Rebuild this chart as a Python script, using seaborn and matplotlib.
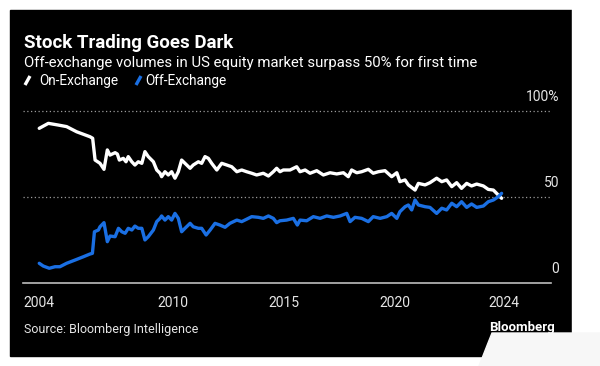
import numpy as np
import pandas as pd
import seaborn as sns
import matplotlib
matplotlib.use("Agg")
import matplotlib.pyplot as plt
from matplotlib.patches import Rectangle, Polygon
from matplotlib.lines import Line2D

# Share of US equity volume (%)
on_year = [2004.01, 2004.42, 2004.87, 2005.24, 2005.69, 2006.29, 2006.41, 2006.52, 2006.74, 2006.92,
           2007.07, 2007.19, 2007.42, 2007.52, 2007.61, 2007.79, 2007.91, 2008.01, 2008.17, 2008.31,
           2008.46, 2008.62, 2008.76, 2008.91, 2009.14, 2009.29, 2009.44, 2009.51, 2009.66, 2009.81,
           2009.96, 2010.11, 2010.26, 2010.41, 2010.56, 2010.79, 2010.93, 2011.16, 2011.31, 2011.46,
           2011.61, 2011.76, 2011.99, 2012.21, 2012.44, 2012.66, 2012.89, 2013.11, 2013.33, 2013.56,
           2013.78, 2014.08, 2014.31, 2014.53, 2014.68, 2014.83, 2014.98, 2015.28, 2015.58, 2015.73,
           2015.96, 2016.18, 2016.48, 2016.78, 2017.08, 2017.38, 2017.68, 2017.90, 2018.05, 2018.28,
           2018.50, 2018.80, 2019.02, 2019.25, 2019.55, 2019.85, 2020.08, 2020.22, 2020.45, 2020.60,
           2020.90, 2021.05, 2021.35, 2021.57, 2021.87, 2022.10, 2022.32, 2022.55, 2022.77, 2022.99,
           2023.22, 2023.44, 2023.67, 2023.97, 2024.19, 2024.42, 2024.64, 2024.79]
on_exchange = [89.9, 92.8, 91.8, 90.9, 87.9, 85.0, 84.1, 71.4, 69.5, 66.0,
               77.3, 74.3, 75.7, 74.9, 71.4, 72.4, 70.4, 73.4, 70.4, 68.5,
               70.4, 69.5, 76.3, 73.4, 70.4, 65.6, 63.7, 61.7, 64.6, 62.7,
               64.6, 60.8, 64.6, 71.4, 69.5, 66.6, 68.5, 70.4, 69.5, 73.4,
               72.4, 69.5, 65.6, 69.5, 68.5, 67.5, 64.6, 65.6, 64.6, 63.7,
               62.7, 63.7, 62.1, 64.6, 66.6, 64.6, 65.6, 65.6, 67.5, 64.6,
               65.6, 63.7, 65.2, 62.7, 64.0, 63.3, 64.0, 61.7, 65.6, 64.0,
               64.6, 66.0, 63.7, 64.6, 65.2, 61.7, 64.0, 58.8, 59.8, 56.9,
               53.9, 57.8, 56.9, 58.2, 60.8, 58.8, 59.8, 55.9, 58.2, 54.9,
               57.8, 56.3, 57.4, 56.3, 54.3, 53.9, 51.0, 49.1]

off_year = [2004.01, 2004.19, 2004.46, 2004.72, 2004.94, 2005.24, 2005.62, 2005.99, 2006.29, 2006.40,
            2006.49, 2006.67, 2006.74, 2006.92, 2007.07, 2007.19, 2007.42, 2007.57, 2007.72, 2007.87,
            2008.01, 2008.17, 2008.31, 2008.46, 2008.62, 2008.76, 2008.91, 2009.14, 2009.29, 2009.44,
            2009.51, 2009.66, 2009.81, 2009.96, 2010.11, 2010.26, 2010.41, 2010.56, 2010.79, 2010.93,
            2011.16, 2011.31, 2011.51, 2011.69, 2011.91, 2012.13, 2012.36, 2012.58, 2012.89, 2013.11,
            2013.33, 2013.56, 2013.86, 2014.08, 2014.31, 2014.53, 2014.68, 2014.83, 2015.13, 2015.43,
            2015.61, 2015.73, 2016.03, 2016.33, 2016.63, 2016.93, 2017.23, 2017.53, 2017.83, 2017.98,
            2018.20, 2018.50, 2018.80, 2019.02, 2019.33, 2019.63, 2019.85, 2020.08, 2020.22, 2020.45,
            2020.60, 2020.75, 2020.90, 2021.05, 2021.35, 2021.57, 2021.87, 2022.10, 2022.32, 2022.55,
            2022.77, 2022.99, 2023.22, 2023.44, 2023.67, 2023.97, 2024.19, 2024.42, 2024.64, 2024.79]
off_exchange = [11.2, 9.6, 8.3, 9.2, 9.2, 11.2, 13.1, 15.0, 16.6, 17.0,
                29.6, 30.6, 32.5, 34.9, 23.8, 27.1, 26.7, 31.6, 29.6, 28.7,
                31.6, 30.6, 32.9, 31.6, 31.6, 24.8, 26.7, 30.6, 35.5, 37.4,
                38.8, 36.4, 38.4, 36.4, 40.3, 37.4, 29.6, 31.6, 34.5, 32.5,
                31.6, 31.6, 27.7, 30.6, 34.5, 33.5, 32.2, 34.5, 36.4, 35.5,
                36.9, 38.4, 38.0, 37.4, 38.8, 37.4, 34.9, 36.0, 36.4, 37.4,
                33.5, 36.4, 36.0, 38.4, 37.4, 38.8, 38.0, 38.8, 40.3, 35.5,
                38.0, 37.4, 35.5, 38.4, 37.4, 38.4, 40.3, 37.4, 41.3, 44.2,
                45.2, 42.3, 48.1, 45.2, 44.2, 43.8, 40.3, 43.3, 42.3, 46.2,
                44.2, 47.1, 43.8, 45.8, 43.8, 44.6, 47.1, 48.1, 50.0, 52.0]

tick_years = [2004, 2010, 2015, 2020, 2024.9]
tick_labels = ["2004", "2010", "2015", "2020", "2024"]
grid_values = [100, 50, 0]
grid_labels = ["100%", "50", "0"]

df = pd.concat([
    pd.DataFrame({"year": on_year, "share": on_exchange, "series": "On-Exchange"}),
    pd.DataFrame({"year": off_year, "share": off_exchange, "series": "Off-Exchange"}),
])

WHITE = "#ffffff"
BLUE = "#1a6fe3"
GREY = "#bdbdbd"

sns.set_style("dark")
plt.rcParams["font.family"] = ["Roboto", "DejaVu Sans"]

fig = plt.figure(figsize=(6, 3.66), dpi=100)
fig.patch.set_facecolor("white")
W, H = 600, 366

# black card
fig.patches.append(Rectangle((10 / W, 1 - 356 / H), 562 / W, 346 / H,
                             transform=fig.transFigure, color="black", zorder=-5))

ax = fig.add_axes([23 / W, 1 - 282.5 / H, 528 / W, 177.5 / H])
ax.set_facecolor("none")

sns.lineplot(data=df, x="year", y="share", hue="series",
             palette={"On-Exchange": WHITE, "Off-Exchange": BLUE},
             linewidth=2.4, legend=False, ax=ax, zorder=3)

ax.set_xlim(2003.28, 2027.01)
ax.set_ylim(0, 103.5)

for v in grid_values[:2]:
    ax.axhline(v, color="#9a9a9a", lw=0.9, ls=(0, (1, 2)), zorder=1)
for v, lbl in zip(grid_values, grid_labels):
    ax.annotate(lbl, xy=(1.0, v), xycoords=("axes fraction", "data"),
                xytext=(6, 10), textcoords="offset points",
                ha="right", va="center", color="#e6e6e6", fontsize=10,
                annotation_clip=False)

for s in ["top", "right", "left"]:
    ax.spines[s].set_visible(False)
ax.spines["bottom"].set_color(GREY)
ax.spines["bottom"].set_linewidth(1.2)
ax.set_yticks([])
ax.set_xticks(tick_years)
ax.set_xticklabels(tick_labels)
ax.tick_params(axis="x", colors=GREY, length=4, width=1.1, pad=6,
               labelsize=10, labelcolor="#e6e6e6")
ax.set_xlabel("")
ax.set_ylabel("")
ax.grid(False)

# titles
fig.text(24 / W, 1 - 43 / H, "Stock Trading Goes Dark", color="white",
         fontsize=13.5, fontweight="bold", va="center", ha="left")
fig.text(24 / W, 1 - 63 / H, "Off-exchange volumes in US equity market surpass 50% for first time",
         color="white", fontsize=10.7, va="center", ha="left")

# legend swatches
for x0, tx, col, lbl in [(24, 39, WHITE, "On-Exchange"), (135, 145, BLUE, "Off-Exchange")]:
    fig.add_artist(Line2D([(x0 + 1) / W, (x0 + 6) / W], [1 - 85 / H, 1 - 76 / H],
                          transform=fig.transFigure, color=col, lw=2.4,
                          solid_capstyle="butt"))
    fig.text(tx / W, 1 - 80.5 / H, lbl, color="white", fontsize=9.8,
             va="center", ha="left")

fig.text(24 / W, 1 - 330 / H, "Source: Bloomberg Intelligence", color="#e6e6e6",
         fontsize=9, va="center", ha="left")
fig.text(555 / W, 1 - 328 / H, "Bloomberg", color="white", fontsize=9.5,
         fontweight="bold", va="center", ha="right")

# faded corner over the logo
fig.patches.append(Polygon([(479 / W, 1 - 366 / H), (488 / W, 1 - 343 / H),
                            (492 / W, 1 - 333 / H), (600 / W, 1 - 333 / H),
                            (600 / W, 1 - 366 / H)],
                           closed=True, transform=fig.transFigure,
                           color="#f7f7f7", zorder=5))
fig.patches.append(Rectangle((572 / W, 0), 28 / W, 1, transform=fig.transFigure,
                             color="white", zorder=4))

fig.savefig("out.png", dpi=100, facecolor=fig.get_facecolor())
